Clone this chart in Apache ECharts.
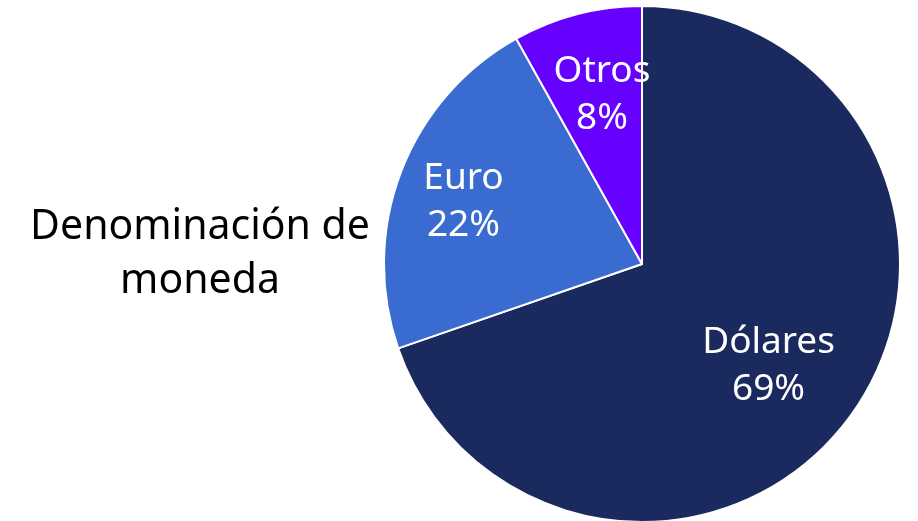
<!DOCTYPE html>
<html>
<head>
<meta charset="utf-8">
<script src="https://cdn.jsdelivr.net/npm/echarts@6/dist/echarts.min.js"></script>
<style>
  html, body { margin: 0; padding: 0; background: #fff; }
  #chart { width: 918px; height: 521px; }
</style>
</head>
<body>
<div id="chart"></div>
<script>
  // datos
  var names = ['Dólares', 'Euro', 'Otros'];
  var values = [69.7, 22.2, 8.1];
  var pctLabels = ['69%', '22%', '8%'];
  var colors = ['#1b2a5e', '#396bd1', '#6600ff'];

  // pequeños ajustes para que cada etiqueta quede donde está en la imagen
  var labelPads = [[0, 32, 24, 0], [0, 30, 10, 0], [14, 0, 0, 8]];

  var chart = echarts.init(document.getElementById('chart'));

  var pieData = names.map(function (n, i) {
    return { name: n, value: values[i], itemStyle: { color: colors[i] } };
  });
  var labelData = names.map(function (n, i) {
    return { name: n, value: values[i], pct: pctLabels[i], label: { padding: labelPads[i] } };
  });

  chart.setOption({
    animation: false,
    graphic: [{
      type: 'text',
      x: 200,
      y: 254,
      style: {
        text: 'Denominación de\nmoneda',
        align: 'center',
        verticalAlign: 'middle',
        fill: '#000',
        font: '41px "Noto Sans"',
        lineHeight: 54
      }
    }],
    series: [
      {
        type: 'pie',
        center: [642, 264],
        radius: [0, 258],
        startAngle: 90,
        label: { show: false },
        labelLine: { show: false },
        itemStyle: { borderColor: '#fff', borderWidth: 2 },
        emphasis: { disabled: true },
        data: pieData
      },
      {
        // anillo transparente: solo para colocar las etiquetas más afuera
        type: 'pie',
        center: [642, 264],
        radius: [86, 258],
        startAngle: 90,
        silent: true,
        itemStyle: { color: 'rgba(0,0,0,0)', borderWidth: 0 },
        label: {
          show: true,
          position: 'inside',
          color: '#fff',
          fontFamily: 'Noto Sans',
          fontSize: 37,
          lineHeight: 47,
          formatter: function (p) {
            return p.name + '\n' + p.data.pct;
          }
        },
        labelLine: { show: false },
        emphasis: { disabled: true },
        data: labelData
      }
    ]
  });
</script>
</body>
</html>
